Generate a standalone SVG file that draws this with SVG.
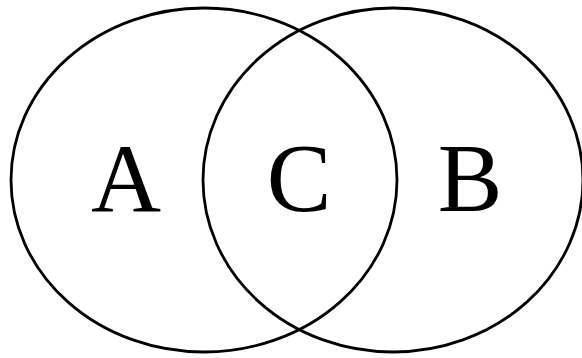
<svg xmlns="http://www.w3.org/2000/svg" width="582" height="358" viewBox="0 0 582 358">
<style>
.set{fill:none;stroke:#000;stroke-width:2.8}
.lbl{font-family:"Liberation Serif","Times New Roman",serif;font-size:97px;fill:#000;text-anchor:middle}
</style>
<rect width="582" height="358" fill="#fff"/>
<g id="setA"><ellipse class="set" cx="204" cy="180" rx="193" ry="172"/></g>
<g id="setB"><ellipse class="set" cx="393" cy="180" rx="190" ry="172"/></g>
<g id="labels">
<text class="lbl" x="126" y="211">A</text>
<text class="lbl" x="299" y="211">C</text>
<text class="lbl" x="470" y="211">B</text>
</g>
</svg>
